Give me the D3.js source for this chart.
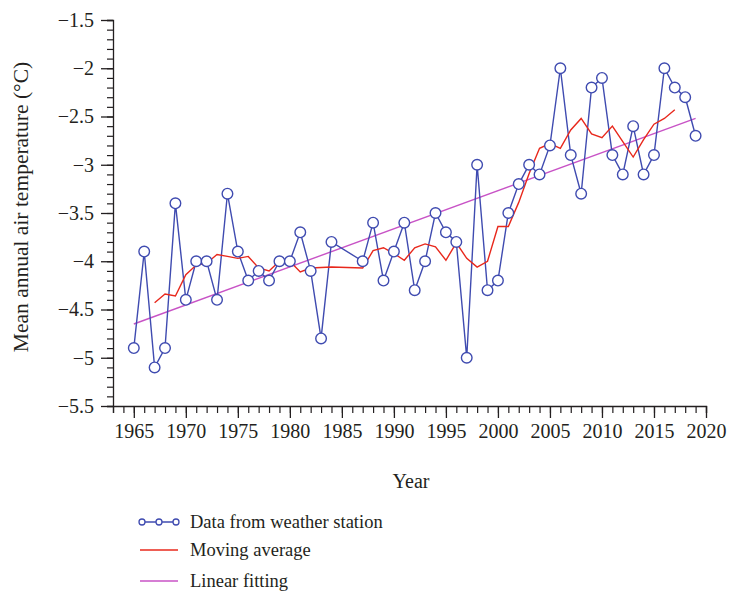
<!DOCTYPE html>
<html>
<head>
<meta charset="utf-8">
<script src="https://cdn.jsdelivr.net/npm/d3@7"></script>
<style>
  body { margin: 0; background: #fff; }
  svg text { font-family: "Liberation Serif", "DejaVu Serif", serif; fill: #231f20; }
</style>
</head>
<body>
<div id="chart"></div>
<script>
// station data (1985, 1986 missing)
var years = [1965,1966,1967,1968,1969,1970,1971,1972,1973,1974,1975,1976,1977,1978,1979,1980,1981,1982,1983,1984,
  1987,1988,1989,1990,1991,1992,1993,1994,1995,1996,1997,1998,1999,2000,2001,2002,2003,2004,2005,2006,2007,2008,
  2009,2010,2011,2012,2013,2014,2015,2016,2017,2018,2019];
var temps = [-4.9,-3.9,-5.1,-4.9,-3.4,-4.4,-4.0,-4.0,-4.4,-3.3,-3.9,-4.2,-4.1,-4.2,-4.0,-4.0,-3.7,-4.1,-4.8,-3.8,
  -4.0,-3.6,-4.2,-3.9,-3.6,-4.3,-4.0,-3.5,-3.7,-3.8,-5.0,-3.0,-4.3,-4.2,-3.5,-3.2,-3.0,-3.1,-2.8,-2.0,-2.9,-3.3,
  -2.2,-2.1,-2.9,-3.1,-2.6,-3.1,-2.9,-2.0,-2.2,-2.3,-2.7];

// moving average
var maYears = [1967,1968,1969,1970,1971,1972,1973,1974,1975,1976,1977,1978,1979,1980,1981,1982,1984,1987,1988,1989,
  1990,1991,1992,1993,1994,1995,1996,1997,1998,1999,2000,2001,2002,2003,2004,2005,2006,2007,2008,2009,2010,2011,
  2012,2013,2014,2015,2016,2017];
var maValues = [-4.43,-4.34,-4.36,-4.14,-4.04,-4.02,-3.93,-3.95,-3.97,-3.95,-4.07,-4.10,-4.00,-4.00,-4.11,-4.07,-4.06,-4.07,-3.89,-3.86,
  -3.92,-3.99,-3.86,-3.82,-3.85,-3.99,-3.81,-3.97,-4.06,-4.00,-3.64,-3.64,-3.39,-3.09,-2.83,-2.78,-2.83,-2.64,-2.52,-2.68,-2.72,-2.60,
  -2.76,-2.92,-2.74,-2.58,-2.52,-2.43];

// linear fitting end points
var fitYears = [1965, 2019];
var fitValues = [-4.65, -2.52];

var xTicks = [1965,1970,1975,1980,1985,1990,1995,2000,2005,2010,2015,2020];
var yTicks = [-1.5,-2,-2.5,-3,-3.5,-4,-4.5,-5,-5.5];
var legendLabels = ["Data from weather station", "Moving average", "Linear fitting"];

var width = 730, height = 592;
var blue = "#3f4bb0", red = "#e8281c", pink = "#c853c6", axisCol = "#231f20";

var svg = d3.select("#chart").append("svg")
  .attr("width", width).attr("height", height);

var x = d3.scaleLinear().domain([1963, 2020]).range([113, 706]);
var y = d3.scaleLinear().domain([-5.5, -1.5]).range([406, 20]);

var minus = function (v) { return String(v).replace("-", "\u2212"); };

// y axis: minor ticks every 0.1
var gy = svg.append("g").attr("transform", "translate(113,0)");
gy.call(d3.axisLeft(y).tickValues(d3.range(-55, -14, 1).map(function (d) { return d / 10; }))
  .tickSize(6).tickFormat(""));
gy.select(".domain").attr("stroke", axisCol).attr("stroke-width", 1.3);
gy.selectAll(".tick line").attr("stroke", axisCol).attr("stroke-width", 1.2);
var gyMajor = svg.append("g").attr("transform", "translate(113,0)");
gyMajor.call(d3.axisLeft(y).tickValues(yTicks).tickSize(12).tickPadding(7).tickFormat(minus));
gyMajor.select(".domain").remove();
gyMajor.selectAll(".tick line").attr("stroke", axisCol).attr("stroke-width", 1.3);
gyMajor.selectAll(".tick text").attr("font-size", 20).style("fill", axisCol);

// x axis: minor ticks every year
var gx = svg.append("g").attr("transform", "translate(0,406)");
gx.call(d3.axisBottom(x).tickValues(d3.range(1963, 2021)).tickSize(7).tickFormat(""));
gx.select(".domain").attr("stroke", axisCol).attr("stroke-width", 1.3);
gx.selectAll(".tick line").attr("stroke", axisCol).attr("stroke-width", 1.2);
var gxMajor = svg.append("g").attr("transform", "translate(0,406)");
gxMajor.call(d3.axisBottom(x).tickValues(xTicks).tickSize(12).tickPadding(6).tickFormat(d3.format("d")));
gxMajor.select(".domain").remove();
gxMajor.selectAll(".tick line").attr("stroke", axisCol).attr("stroke-width", 1.3);
gxMajor.selectAll(".tick text").attr("font-size", 20).style("fill", axisCol);

// axis titles
svg.append("text").attr("x", 411).attr("y", 488).attr("text-anchor", "middle")
  .attr("font-size", 20).text("Year");
svg.append("text").attr("transform", "translate(28,207) rotate(-90)")
  .attr("text-anchor", "middle").attr("font-size", 21.5)
  .text("Mean annual air temperature (°C)");

// linear fitting
svg.append("path")
  .datum(fitYears.map(function (d, i) { return [d, fitValues[i]]; }))
  .attr("fill", "none").attr("stroke", pink).attr("stroke-width", 1.4)
  .attr("d", d3.line().x(function (d) { return x(d[0]); }).y(function (d) { return y(d[1]); }));

// station data
var pts = years.map(function (d, i) { return [d, temps[i]]; });
svg.append("path").datum(pts)
  .attr("fill", "none").attr("stroke", blue).attr("stroke-width", 1.4)
  .attr("d", d3.line().x(function (d) { return x(d[0]); }).y(function (d) { return y(d[1]); }));

// moving average
svg.append("path")
  .datum(maYears.map(function (d, i) { return [d, maValues[i]]; }))
  .attr("fill", "none").attr("stroke", red).attr("stroke-width", 1.4)
  .attr("d", d3.line().x(function (d) { return x(d[0]); }).y(function (d) { return y(d[1]); }));

svg.append("g").selectAll("circle").data(pts).join("circle")
  .attr("cx", function (d) { return x(d[0]); })
  .attr("cy", function (d) { return y(d[1]); })
  .attr("r", 5.3)
  .attr("fill", "#fff").attr("stroke", blue).attr("stroke-width", 1.4);

// legend
var legendY = [522, 550, 581];
var legendColors = [blue, red, pink];
var lg = svg.append("g");
legendLabels.forEach(function (lab, i) {
  lg.append("line").attr("x1", 140).attr("x2", 178)
    .attr("y1", legendY[i]).attr("y2", legendY[i])
    .attr("stroke", legendColors[i]).attr("stroke-width", 1.4);
  if (i === 0) {
    [142, 159, 176].forEach(function (cx) {
      lg.append("circle").attr("cx", cx).attr("cy", legendY[i]).attr("r", 3)
        .attr("fill", "#fff").attr("stroke", blue).attr("stroke-width", 1.3);
    });
  }
  lg.append("text").attr("x", 190).attr("y", legendY[i] + 6)
    .attr("font-size", 18.5).text(lab);
});
</script>
</body>
</html>
